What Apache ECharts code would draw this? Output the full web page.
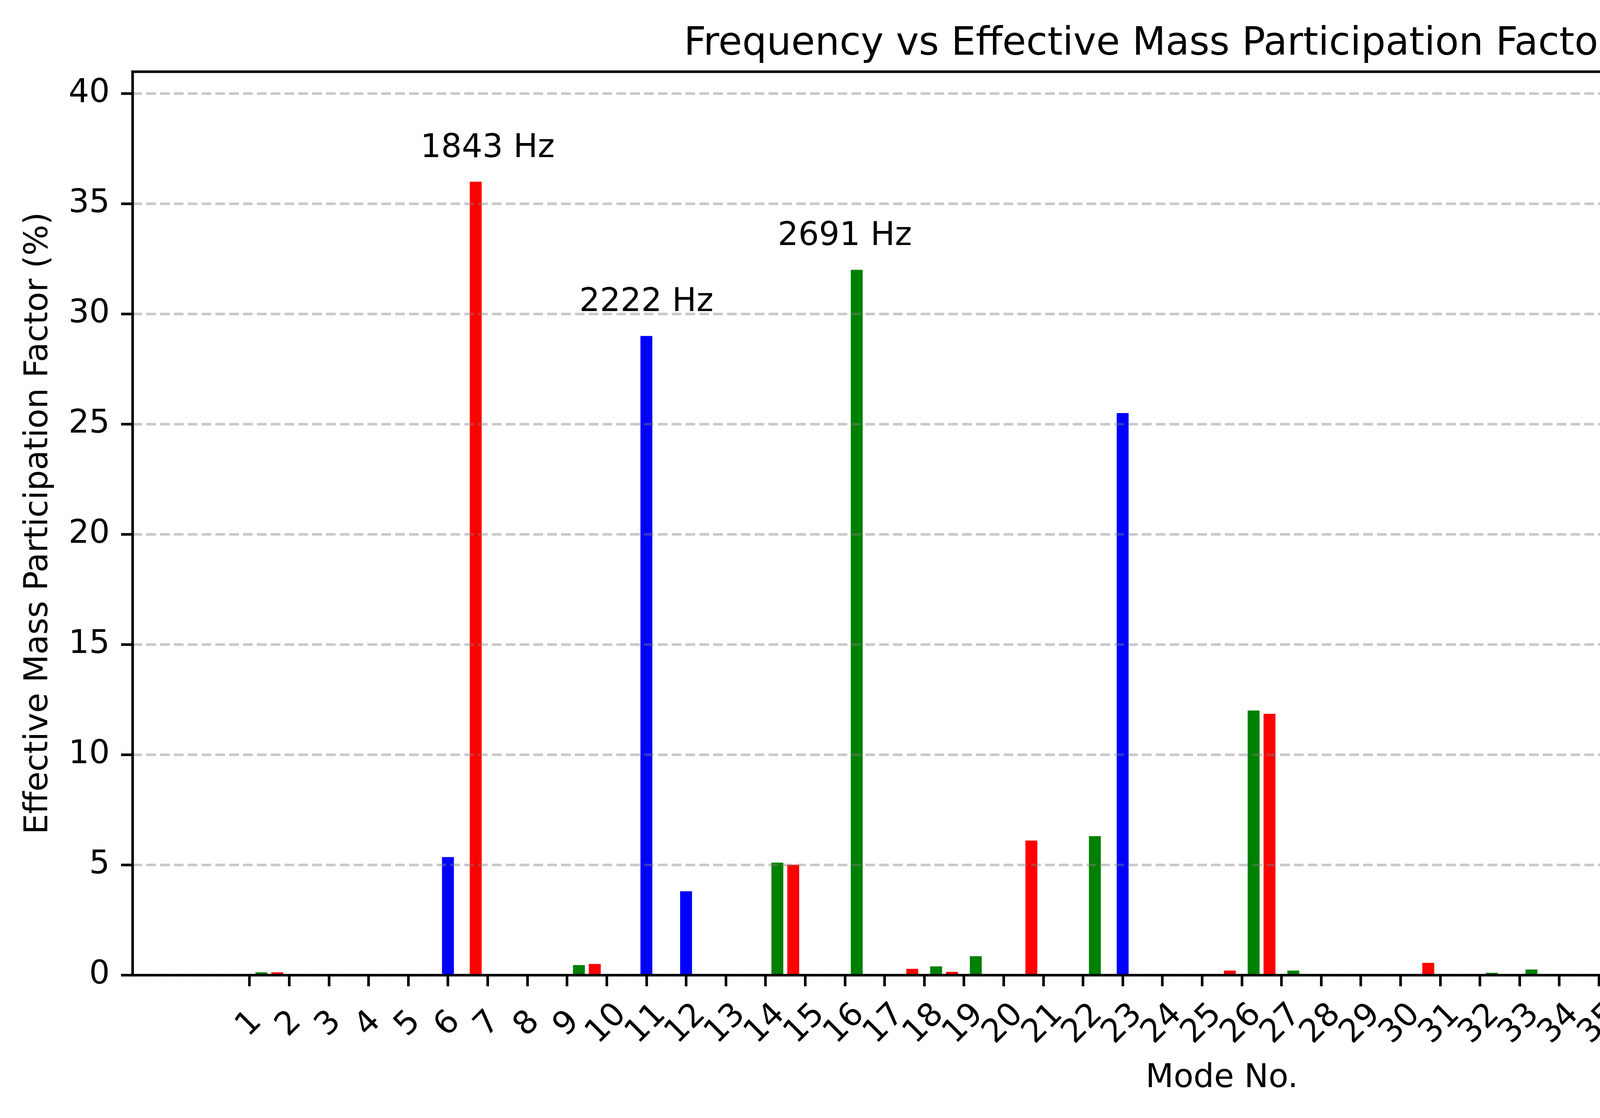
<!DOCTYPE html>
<html>
<head>
<meta charset="utf-8">
<script src="https://cdn.jsdelivr.net/npm/echarts@6/dist/echarts.min.js"></script>
<style>
html,body{margin:0;padding:0;background:#fff;}
#chart{width:5978px;height:2861px;}
</style>
</head>
<body>
<div id="chart"></div>
<script>
// ---- data ----
const modes = [1,2,3,4,5,6,7,8,9,10,11,12,13,14,15,16,17,18,19,20,21,22,23,24,25,26,27,28,29,30,31,32,33,34,35,36,37,38,39,40,41,42,43,44,45,46,47,48,49,50];
const xEMPF = [0,0.12,0,0,0,0,36,0,0,0.5, 0,0,0,0.02,5.0,0,0,0.28,0.14,0, 6.1,0,0,0,0,0.2,11.85,0,0,0, 0.55,0,0,0,0,5.1,0,0,0,0, 0,0,1.7,0,0.9,0.45,0,0,0.25,0];
const yEMPF = [0,0,0,0,0,5.35,0,0,0,0, 29,3.8,0,0,0,0,0,0,0,0, 0,0,25.5,0,0,0,0,0,0,0, 0,0,0,0,0,0,0,0.1,0,5.85, 0,0,0,0,0,0,0.3,7.5,0,0];
const zEMPF = [0.12,0,0,0,0,0,0,0,0.45,0, 0,0,0,5.1,0,32,0,0.39,0.85,0, 0,6.3,0,0,0,12.0,0.2,0,0,0, 0,0.1,0.25,0,3.45,0,0,0,0,0, 0.08,2.1,0,0,0,0.65,1.3,0,0,0.05];
const annModes = [7, 11, 16];
const annValues = [36, 29, 32];
const annTexts = ['1843 Hz', '2222 Hz', '2691 Hz'];
const yTicks = [0,5,10,15,20,25,30,35,40];

// ---- layout / style constants ----
const FONT = '"DejaVu Sans", sans-serif';
const BAR_W = 0.3;
const OFFSETS = {X: -0.3, Y: 0, Z: 0.3};
const LW = 6.7;

function barData(vals, off) {
  return modes.map((m, i) => [m + off, vals[i]]);
}
function barRender(params, api) {
  const x = api.value(0), v = api.value(1);
  if (!v) return null;
  const p0 = api.coord([x - BAR_W / 2, v]);
  const p1 = api.coord([x + BAR_W / 2, 0]);
  return {
    type: 'rect',
    shape: {x: p0[0], y: p0[1], width: p1[0] - p0[0], height: p1[1] - p0[1]},
    style: api.style()
  };
}
function barSeries(name, vals, color) {
  return {
    name: name, type: 'custom', renderItem: barRender,
    xAxisIndex: 0, yAxisIndex: 0,
    itemStyle: {color: color}, color: color,
    encode: {x: 0, y: 1},
    data: barData(vals, OFFSETS[name]),
    z: 2, silent: true
  };
}

const chart = echarts.init(document.getElementById('chart'), null, {renderer: 'canvas'});
const option = {
  animation: false,
  backgroundColor: '#ffffff',
  title: {
    text: 'Frequency vs Effective Mass Participation Factor (EMPF)',
    left: 3128, top: 65, textAlign: 'center', padding: 0,
    textStyle: {fontFamily: FONT, fontSize: 99, fontWeight: 'normal', color: '#000', lineHeight: 99}
  },
  legend: {
    data: ['X', 'Y', 'Z'], orient: 'vertical', right: 101, top: 218,
    padding: [33, 33, 33, 33], itemGap: 41.5, itemWidth: 167, itemHeight: 58,
    icon: 'rect', selectedMode: false,
    backgroundColor: 'rgba(255,255,255,0.8)', borderColor: '#d6d6d6', borderWidth: 7, borderRadius: 17,
    textStyle: {fontFamily: FONT, fontSize: 83, lineHeight: 83, color: '#000', padding: [0, 0, 0, 61]}
  },
  grid: {left: 339, right: 61, top: 183, bottom: 366, containLabel: false},
  xAxis: [{
    type: 'value', min: -1.95, max: 52.95, position: 'bottom', z: 4,
    name: 'Mode No.', nameLocation: 'middle', nameGap: 224,
    nameTextStyle: {fontFamily: FONT, fontSize: 83, color: '#000', lineHeight: 83},
    axisLine: {show: true, onZero: false, lineStyle: {color: '#000', width: LW}},
    axisTick: {show: true, customValues: modes, length: 29, lineStyle: {color: '#000', width: LW}},
    axisLabel: {show: true, customValues: modes, rotate: 45, align: 'center', verticalAlign: 'middle',
      margin: 126, fontFamily: FONT, fontSize: 83, color: '#000', lineHeight: 97},
    splitLine: {show: false}
  }, {
    type: 'value', min: -1.95, max: 52.95, position: 'top', z: 4,
    axisLine: {show: true, onZero: false, lineStyle: {color: '#000', width: LW}},
    axisTick: {show: false}, axisLabel: {show: false}, splitLine: {show: false}
  }],
  yAxis: [{
    type: 'value', min: 0, max: 41, interval: 5, position: 'left', z: 3,
    name: 'Effective Mass Participation Factor (%)', nameLocation: 'middle', nameGap: 198,
    nameTextStyle: {fontFamily: FONT, fontSize: 83, color: '#000', lineHeight: 83},
    axisLine: {show: true, onZero: false, lineStyle: {color: '#000', width: LW}},
    axisTick: {show: true, customValues: yTicks, length: 29, lineStyle: {color: '#000', width: LW}},
    axisLabel: {show: true, customValues: yTicks, margin: 58, fontFamily: FONT, fontSize: 83, color: '#000'},
    splitLine: {show: true, lineStyle: {color: 'rgba(128,128,128,0.43)', width: LW, type: [24.7, 10.7]}}
  }, {
    type: 'value', min: 0, max: 41, position: 'right', z: 4,
    axisLine: {show: true, onZero: false, lineStyle: {color: '#000', width: LW}},
    axisTick: {show: false}, axisLabel: {show: false}, splitLine: {show: false}
  }],
  series: [
    barSeries('X', xEMPF, '#ff0000'),
    barSeries('Y', yEMPF, '#0000ff'),
    barSeries('Z', zEMPF, '#008000'),
    {
      name: 'annotations', type: 'custom', xAxisIndex: 0, yAxisIndex: 0, silent: true, z: 5,
      data: annModes.map((m, i) => [m, annValues[i] + 1]),
      encode: {x: 0, y: 1},
      renderItem: function (params, api) {
        const p = api.coord([api.value(0), api.value(1)]);
        return {
          type: 'text',
          style: {
            text: annTexts[params.dataIndex], x: p[0], y: p[1],
            align: 'center', verticalAlign: 'bottom',
            fontFamily: 'DejaVu Sans', fontSize: 83, lineHeight: 57, fill: '#000'
          }
        };
      }
    }
  ]
};
chart.setOption(option);
</script>
</body>
</html>
